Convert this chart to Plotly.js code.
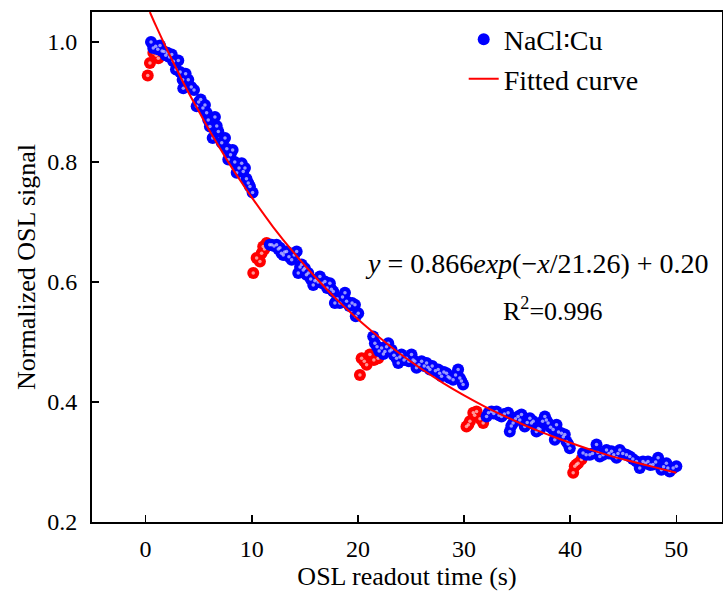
<!DOCTYPE html>
<html>
<head>
<meta charset="utf-8">
<script src="https://cdn.plot.ly/plotly-3.0.1.min.js"></script>
<style>html,body{margin:0;padding:0;background:#fff;}#chart{width:723px;height:591px;}</style>
</head>
<body>
<div id="chart"></div>
<script>
// Blue (main) OSL data points
const blueX = [0.51,0.72,0.95,1.15,1.36,1.55,1.73,1.90,2.05,2.25,2.46,2.61,2.86,3.08,3.25,3.49,3.55,3.77,4.02,4.30,4.56,4.81,5.00,5.19,5.40,5.59,5.75,5.90,6.06,6.32,6.53,6.70,6.85,7.17,7.48,7.65,7.79,8.00,8.20,8.40,8.58,8.80,9.05,9.20,9.36,9.50,9.67,9.83,10.08,
  11.70,11.87,12.10,12.34,12.50,12.65,12.80,12.97,13.10,13.28,13.50,13.76,14.00,14.23,14.38,14.55,14.70,14.85,15.00,15.15,15.32,15.55,15.79,15.95,16.10,16.25,16.42,16.65,16.89,17.10,17.36,17.50,17.68,17.83,18.05,18.30,18.55,18.78,18.93,19.20,19.45,19.72,19.80,20.03,
  21.44,21.60,21.80,22.00,22.23,22.40,22.54,22.70,22.86,23.00,23.17,23.40,23.64,23.80,23.95,24.11,24.35,24.58,24.80,25.05,25.20,25.36,25.52,25.75,26.00,26.25,26.47,26.60,26.78,27.00,27.30,27.56,27.70,27.88,28.10,28.35,28.50,28.66,28.97,29.20,29.44,29.60,29.75,29.91,
  32.12,32.30,32.59,32.80,33.06,33.30,33.53,33.80,34.15,34.31,34.45,34.62,34.85,35.09,35.25,35.41,35.72,35.95,36.20,36.35,36.51,36.82,37.00,37.14,37.40,37.61,37.75,37.92,38.15,38.39,38.55,38.71,38.90,39.18,39.35,39.49,39.65,39.80,39.96,
  41.21,41.50,41.85,42.10,42.48,42.60,42.79,43.10,43.42,43.65,43.89,44.10,44.36,44.50,44.67,44.95,45.30,45.61,45.90,46.24,46.55,46.86,47.10,47.33,47.55,47.80,48.05,48.28,48.59,48.80,49.06,49.20,49.37,49.70,50.00];
const blueY = [1.000,0.990,0.993,0.988,0.994,0.985,0.984,0.978,0.982,0.975,0.979,0.968,0.954,0.969,0.950,0.937,0.923,0.947,0.937,0.925,0.920,0.893,0.900,0.904,0.890,0.895,0.882,0.870,0.859,0.840,0.875,0.860,0.851,0.832,0.840,0.822,0.804,0.812,0.820,0.800,0.782,0.790,0.798,0.784,0.790,0.772,0.765,0.759,0.749,
  0.662,0.662,0.660,0.662,0.655,0.657,0.648,0.645,0.650,0.651,0.642,0.637,0.645,0.651,0.615,0.625,0.629,0.620,0.623,0.612,0.615,0.605,0.595,0.602,0.604,0.600,0.609,0.598,0.601,0.590,0.598,0.588,0.584,0.565,0.572,0.565,0.575,0.582,0.568,0.560,0.565,0.562,0.543,0.548,
  0.509,0.498,0.492,0.485,0.490,0.480,0.484,0.492,0.498,0.485,0.487,0.478,0.473,0.465,0.475,0.479,0.470,0.473,0.468,0.479,0.470,0.468,0.457,0.462,0.468,0.460,0.465,0.458,0.454,0.460,0.452,0.454,0.448,0.443,0.450,0.448,0.442,0.440,0.437,0.445,0.454,0.440,0.435,0.429,
  0.376,0.382,0.384,0.381,0.384,0.378,0.376,0.380,0.382,0.351,0.360,0.365,0.372,0.376,0.370,0.379,0.359,0.366,0.373,0.365,0.368,0.351,0.356,0.354,0.368,0.376,0.370,0.365,0.358,0.354,0.337,0.362,0.350,0.348,0.342,0.346,0.334,0.330,0.323,
  0.315,0.312,0.312,0.314,0.329,0.316,0.309,0.312,0.320,0.314,0.318,0.312,0.307,0.314,0.320,0.314,0.312,0.309,0.305,0.301,0.290,0.301,0.298,0.301,0.295,0.296,0.300,0.307,0.287,0.292,0.298,0.290,0.284,0.290,0.293];

// Red points at the start of each readout segment
const redX = [0.20,0.41,0.73,1.00,1.20,
  10.14,10.46,10.77,10.93,11.08,11.20,11.40,
  20.19,20.35,20.60,20.82,21.13,21.50,21.91,
  30.23,30.40,30.55,30.87,31.00,31.18,31.50,31.80,
  40.28,40.43,40.60,40.74,41.06];
const redY = [0.944,0.965,0.982,0.978,0.973,
  0.615,0.640,0.634,0.648,0.659,0.655,0.665,
  0.445,0.473,0.468,0.462,0.479,0.470,0.473,
  0.359,0.362,0.368,0.382,0.378,0.384,0.372,0.365,
  0.282,0.293,0.296,0.298,0.304];

// Fitted curve y = 0.866exp(-x/21.26) + 0.20, values as drawn
const fitX = [0.4,1,2,3,4,5,6,7,8,9,10,12,14,16,18,20,22,24,26,28,30,32,34,36,38,40,42,44,46,48,50];
const fitY = [1.050,1.026,0.988,0.952,0.917,0.885,0.853,0.823,0.794,0.767,0.741,0.692,0.648,0.608,0.571,0.538,0.508,0.480,0.455,0.432,0.411,0.392,0.375,0.359,0.345,0.332,0.320,0.309,0.300,0.291,0.282];

const xTicks = [0,10,20,30,40,50];
const yTicks = [0.2,0.4,0.6,0.8,1.0];
const yTickText = ['0.2','0.4','0.6','0.8','1.0'];

const serif = 'Liberation Serif, Times New Roman, serif';

const traces = [
  {x: redX, y: redY, type:'scatter', mode:'markers', showlegend:false, hoverinfo:'skip',
   marker:{color:'#ff0000', size:12, line:{width:0}}},
  {x: redX, y: redY, type:'scatter', mode:'markers', showlegend:false, hoverinfo:'skip',
   marker:{color:'rgba(255,200,200,0.75)', size:3.5, line:{width:0}}},
  {x: blueX, y: blueY, type:'scatter', mode:'markers', name:'NaCl\u2236Cu', legendgroup:'a',
   marker:{color:'#0000ff', size:12, line:{width:0}}},
  {x: blueX, y: blueY, type:'scatter', mode:'markers', showlegend:false, hoverinfo:'skip',
   marker:{color:'rgba(200,200,255,0.75)', size:3.5, line:{width:0}}},
  {x: fitX, y: fitY, type:'scatter', mode:'lines', name:'Fitted curve', legendgroup:'b',
   line:{color:'#ff0000', width:2, shape:'spline'}}
];

const layout = {
  width:723, height:591,
  margin:{l:92, r:1, t:12, b:69},
  paper_bgcolor:'#fff', plot_bgcolor:'#fff',
  font:{family:serif, color:'#000', size:24},
  showlegend:true,
  legend:{x:0.59, y:0.995, xanchor:'left', yanchor:'top', bgcolor:'rgba(0,0,0,0)',
          font:{family:serif, size:28, color:'#000'}, tracegroupgap:0, itemwidth:30},
  xaxis:{range:[-5.05,54.3], tickvals:xTicks, ticks:'inside', ticklen:7, tickwidth:1.5, tickcolor:'#000',
         showline:true, linecolor:'#000', linewidth:2, mirror:true, showgrid:false, zeroline:false,
         ticklabelstandoff:4,
         tickfont:{family:serif, size:24, color:'#000'},
         title:{text:'OSL readout time (s)', font:{family:serif, size:26, color:'#000'}, standoff:2}},
  yaxis:{range:[0.2,1.05], tickvals:yTicks, ticktext:yTickText, ticks:'inside', ticklen:7, tickwidth:1.5, tickcolor:'#000',
         showline:true, linecolor:'#000', linewidth:2, mirror:true, showgrid:false, zeroline:false,
         ticklabelstandoff:8,
         tickfont:{family:serif, size:24, color:'#000'},
         title:{text:'Normalized OSL signal', font:{family:serif, size:26, color:'#000'}, standoff:4}},
  annotations:[
    {xref:'paper', yref:'paper', x:0.706, y:0.506, showarrow:false, xanchor:'center', yanchor:'middle',
     text:'<i>y</i> = 0.866<i>exp</i>(\u2212<i>x</i>/21.26) + 0.20', font:{family:serif, size:28, color:'#000'}},
    {xref:'paper', yref:'paper', x:0.732, y:0.416, showarrow:false, xanchor:'center', yanchor:'middle',
     text:'R<sup>2</sup>=0.996', font:{family:serif, size:26, color:'#000'}}
  ]
};

Plotly.newPlot('chart', traces, layout, {displayModeBar:false, staticPlot:true});
</script>
</body>
</html>
